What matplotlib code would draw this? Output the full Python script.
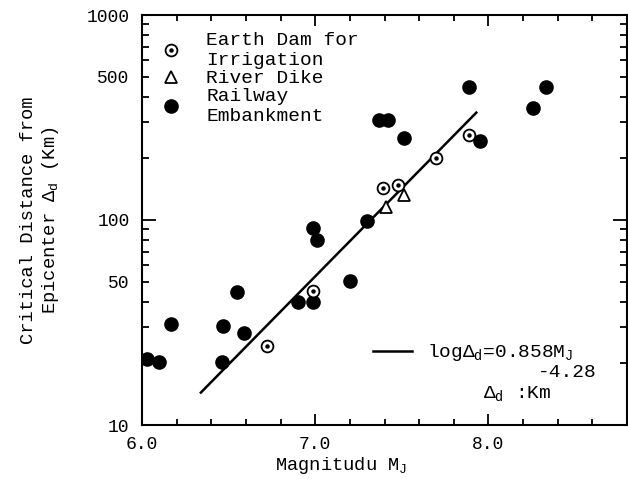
import matplotlib
matplotlib.use("Agg")
import matplotlib.pyplot as plt
from matplotlib.ticker import FixedLocator, FixedFormatter

plt.rcParams['font.family'] = ['Liberation Mono', 'DejaVu Sans']
plt.rcParams['mathtext.fontset'] = 'custom'
plt.rcParams['mathtext.rm'] = 'Liberation Mono'
plt.rcParams['mathtext.it'] = 'Liberation Mono'
plt.rcParams['mathtext.bf'] = 'Liberation Mono'

# Railway embankment (filled circles)
rail_m = [6.03, 6.10, 6.17, 6.47, 6.55, 6.59, 6.46, 6.90, 6.99, 6.99,
          7.01, 7.20, 7.30, 7.37, 7.42, 7.51, 7.89, 7.95, 8.26, 8.33]
rail_d = [21.0, 20.3, 31.1, 30.4, 44.6, 28.1, 20.3, 39.8, 39.8, 91.4,
          79.9, 50.4, 98.9, 307, 307, 251, 445, 243, 352, 445]

# Earth dam for irrigation (circle with dot)
dam_m = [6.72, 6.99, 7.39, 7.48, 7.70, 7.89]
dam_d = [24.3, 45.1, 143, 148, 200, 260]

# River dike (triangles)
dike_m = [7.41, 7.51]
dike_d = [116, 132]

# fitted line log(d) = 0.858 M - 4.28, end points
fit_m = [6.34, 7.93]
fit_d = [14.4, 334]

x_major = [6.0, 7.0, 8.0]
x_labels = ["6.0", "7.0", "8.0"]
y_major = [10, 100, 1000]
y_minor = [20, 30, 40, 50, 60, 70, 80, 90, 200, 300, 400, 500, 600, 700, 800, 900]
y_minor_labels = ["", "", "", "50", "", "", "", "", "", "", "", "500", "", "", "", ""]

fig = plt.figure(figsize=(6.28, 4.79), dpi=100)
ax = fig.add_axes([142/628, 54/479, 485/628, 410/479])

fit_line, = ax.plot(fit_m, fit_d, "-k", linewidth=1.8)
h_rail, = ax.plot(rail_m, rail_d, "o", color="black", markersize=9.5, linestyle="none")
h_dam, = ax.plot(dam_m, dam_d, "o", mfc="white", mec="black", mew=1.3, markersize=8.5, linestyle="none")
h_dot, = ax.plot(dam_m, dam_d, "o", color="black", markersize=2.2, linestyle="none")
h_dike, = ax.plot(dike_m, dike_d, "^", mfc="white", mec="black", mew=1.3, markersize=9, linestyle="none")

ax.set_yscale("log")
ax.set_xlim(6.0, 8.8)
ax.set_ylim(10, 1000)

ax.xaxis.set_major_locator(FixedLocator(x_major))
ax.xaxis.set_major_formatter(FixedFormatter(x_labels))
ax.xaxis.set_minor_locator(FixedLocator([6.2, 6.4, 6.6, 6.8, 7.2, 7.4, 7.6, 7.8, 8.2, 8.4, 8.6]))
ax.yaxis.set_major_locator(FixedLocator(y_major))
ax.yaxis.set_major_formatter(FixedFormatter([str(v) for v in y_major]))
ax.yaxis.set_minor_locator(FixedLocator(y_minor))
ax.yaxis.set_minor_formatter(FixedFormatter(y_minor_labels))

ax.tick_params(which="both", direction="in", top=True, right=True, width=1.3, labelsize=13)
ax.tick_params(axis="y", which="major", length=10, pad=9)
ax.tick_params(axis="y", which="minor", length=5, pad=9)
ax.tick_params(axis="x", which="major", length=8, pad=8)
ax.tick_params(axis="x", which="minor", length=4, pad=8)
for s in ax.spines.values():
    s.set_linewidth(1.5)

ax.set_xlabel(r"Magnitudu M$_{J}$", fontsize=13.5)
ax.xaxis.set_label_coords(0.41, -0.072)
ax.set_ylabel("Critical Distance from\n" + r"Epicenter $\Delta_{d}$ (Km)", fontsize=13.5)
ax.yaxis.set_label_coords(-0.166, 0.5)

leg = ax.legend([(h_dam, h_dot), h_dike, h_rail],
                ["Earth Dam for\nIrrigation", "River Dike", "Railway\nEmbankment"],
                loc="upper left", bbox_to_anchor=(0.04, 0.958), frameon=False,
                borderpad=0, borderaxespad=0, handlelength=1.0, handletextpad=1.3,
                labelspacing=0.05, fontsize=14)
ax.add_artist(leg)

ax.legend([fit_line], [r"log$\Delta_{d}$=0.858M$_{J}$"], loc="center left",
          bbox_to_anchor=(0.476, 0.176), frameon=False, borderpad=0, borderaxespad=0,
          handlelength=2.0, handletextpad=0.8, fontsize=14)
ax.text(0.938, 0.127, "-4.28", transform=ax.transAxes, ha="right", va="center", fontsize=14)
ax.text(0.773, 0.076, r"$\Delta_{d}$ :Km", transform=ax.transAxes, ha="center", va="center", fontsize=14)

plt.savefig("out.png", dpi=100)
